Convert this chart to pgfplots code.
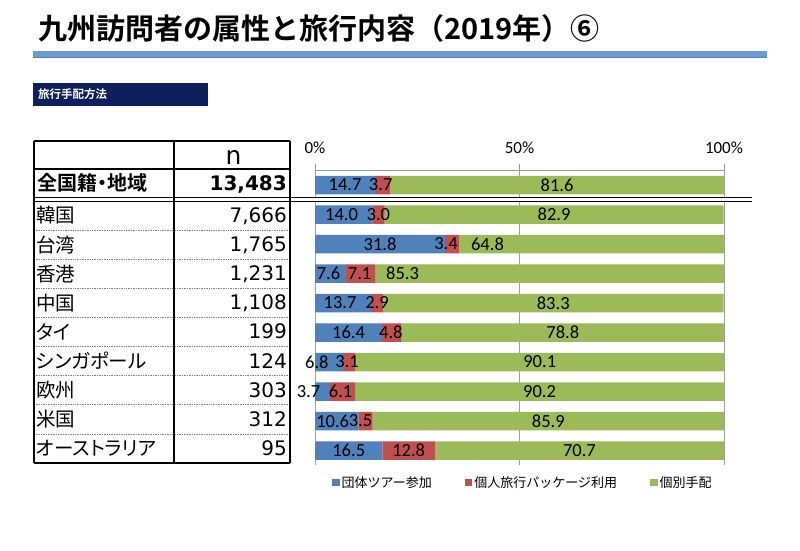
\documentclass[border=0pt]{standalone}
\usepackage{pgfplots}
\pgfplotsset{compat=1.18}
\usepackage{pgfplotstable}
\usepackage{fontspec}
\setmainfont{Noto Sans CJK JP}[BoldFont={Noto Sans CJK JP Bold}]
\newfontfamily\jpp{Noto Sans CJK JP}[RawFeature=+palt,BoldFont={Noto Sans CJK JP Bold}]
\newfontfamily\numf{DejaVu Sans}
\newfontfamily\calf{Carlito}
\definecolor{cblue}{HTML}{4F81BD}
\definecolor{cred}{HTML}{C0504D}
\definecolor{cgreen}{HTML}{9BBB59}
\definecolor{navy}{HTML}{0D1F5C}
\definecolor{tband}{HTML}{6C9BD2}
\definecolor{tbandd}{HTML}{5282BF}

\pgfplotstableread{
idx blue red green boff roff goff
0 14.7 3.7 81.6 0 -2 0
1 14.0 3.0 82.9 -2 0 0
2 31.8 3.4 64.8 0 -6 -104
3 7.6 7.1 85.3 -2 -1 -147
4 13.7 2.9 83.3 -3 0 0
5 16.4 4.8 78.8 0 -1 0
6 6.8 3.1 90.1 -12 -2 0
7 3.7 6.1 90.2 -14 -2 0
8 10.6 3.5 85.9 -4 -5 0
9 16.5 12.8 70.7 0 0 0
}\data

\begin{document}
\begin{tikzpicture}[x=1pt,y=1pt]
\path[use as bounding box, fill=white] (0,0) rectangle (800,550);
% title
\node[anchor=west, inner sep=0pt] at (38,522) {\bfseries\fontsize{29}{29}\selectfont 九州訪問者の属性と旅行内容（2019年）⑥};
\fill[tband] (33,492) rectangle (767,499);
\draw[tbandd, line width=0.8pt] (33,492.4) -- (767,492.4);
% section box
\fill[navy] (33,444) rectangle (208,467);
\node[anchor=west, inner sep=0pt, text=white] at (38,455.5) {\jpp\bfseries\fontsize{11.5}{11.5}\selectfont 旅行手配方法};

\begin{axis}[
  at={(315pt,84.75pt)}, anchor=south west,
  scale only axis, width=409pt, height=295pt,
  xbar stacked, bar width=18.5pt,
  xmin=0, xmax=100, ymin=-9.5, ymax=0.5,
  axis x line*=top, axis y line=none,
  x axis line style={gray!80, line width=0.8pt, -},
  xtick={0,50,100}, xticklabels={0\%,50\%,100\%},
  xtick align=outside, major tick length=6pt,
  xtick style={gray!80, line width=0.8pt},
  xticklabel style={font=\calf\fontsize{17}{17}\selectfont, text=black, yshift=7pt},
  xmajorgrids, grid style={gray!75, line width=0.8pt},
  ytick=\empty,
  clip=false,
  /pgf/number format/.cd, fixed, fixed zerofill, precision=1, assume math mode=true, /pgfplots/.cd,
  nodes near coords,
  every node near coord/.append style={anchor=center, font=\calf\fontsize{18.5}{18.5}\selectfont, text=black, inner sep=0pt},
  point meta=explicit,
  legend columns=3,
  legend style={at={(0.0416,0)}, anchor=north west, yshift=-9pt, draw=none, fill=none, inner sep=0pt,
     font=\fontsize{13}{13}\selectfont,
     /tikz/every even column/.append style={column sep=31pt}},
  legend image code/.code={\fill[#1,draw=none] (0pt,-3.5pt) rectangle (7.5pt,3.5pt);},
]
\addplot[fill=cblue, draw=none,
  visualization depends on={\thisrow{boff} \as \off},
  every node near coord/.append style={xshift={\off*1pt}}]
  table[x=blue, y expr=-\thisrow{idx}, meta=blue] {\data};
\addlegendentry{団体ツアー参加}
\addplot[fill=cred, draw=none,
  visualization depends on={\thisrow{roff} \as \off},
  every node near coord/.append style={xshift={\off*1pt}}]
  table[x=red, y expr=-\thisrow{idx}, meta=red] {\data};
\addlegendentry{個人旅行パッケージ利用}
\addplot[fill=cgreen, draw=none,
  visualization depends on={\thisrow{goff} \as \off},
  every node near coord/.append style={xshift={\off*1pt}}]
  table[x=green, y expr=-\thisrow{idx}, meta=green] {\data};
\addlegendentry{個別手配}
\end{axis}

% table
\foreach \yy in {319.9,290.8,261.7,232.6,203.4,174.3,145.2,116.1}
  \draw[gray, densely dotted, line width=0.7pt] (34,\yy) -- (290,\yy);
\draw[black, line width=1.3pt] (34,409) -- (290,409);
\draw[black, line width=1.3pt] (34,381) -- (290,381);
\draw[black, line width=1.3pt] (34,87) -- (290,87);
\fill[white] (34,349.2) rectangle (752,352.2);
\draw[black, line width=1.3pt] (34,352.7) -- (752,352.7);
\draw[black, line width=1.3pt] (34,348.7) -- (752,348.7);
\draw[black, line width=1.3pt] (34,409) -- (34,87);
\draw[black, line width=1.3pt] (174,409) -- (174,87);
\draw[black, line width=1.3pt] (290,409) -- (290,87);

\node[anchor=center, inner sep=0pt] at (233.5,392.5) {\numf\fontsize{25}{25}\selectfont n};
\node[anchor=west, inner sep=0pt] at (37,367) {\jpp\bfseries\fontsize{20}{20}\selectfont 全国籍・地域};
\node[anchor=base east, inner sep=0pt] at (287,360) {\numf\bfseries\fontsize{20}{20}\selectfont 13,483};

\foreach \nm/\nn/\yc in {韓国/{7,666}/334.45, 台湾/{1,765}/305.35, 香港/{1,231}/276.25, 中国/{1,108}/247.15, タイ/199/218.05, シンガポール/124/188.95, 欧州/303/159.85, 米国/312/130.75, オーストラリア/95/101.65}{
  \node[anchor=west, inner sep=0pt] at (36,\yc) {\jpp\fontsize{19.5}{19.5}\selectfont \nm};
  \node[anchor=base east, inner sep=0pt] at (287,\yc-7) {\numf\fontsize{20}{20}\selectfont \nn};
}
\end{tikzpicture}
\end{document}
